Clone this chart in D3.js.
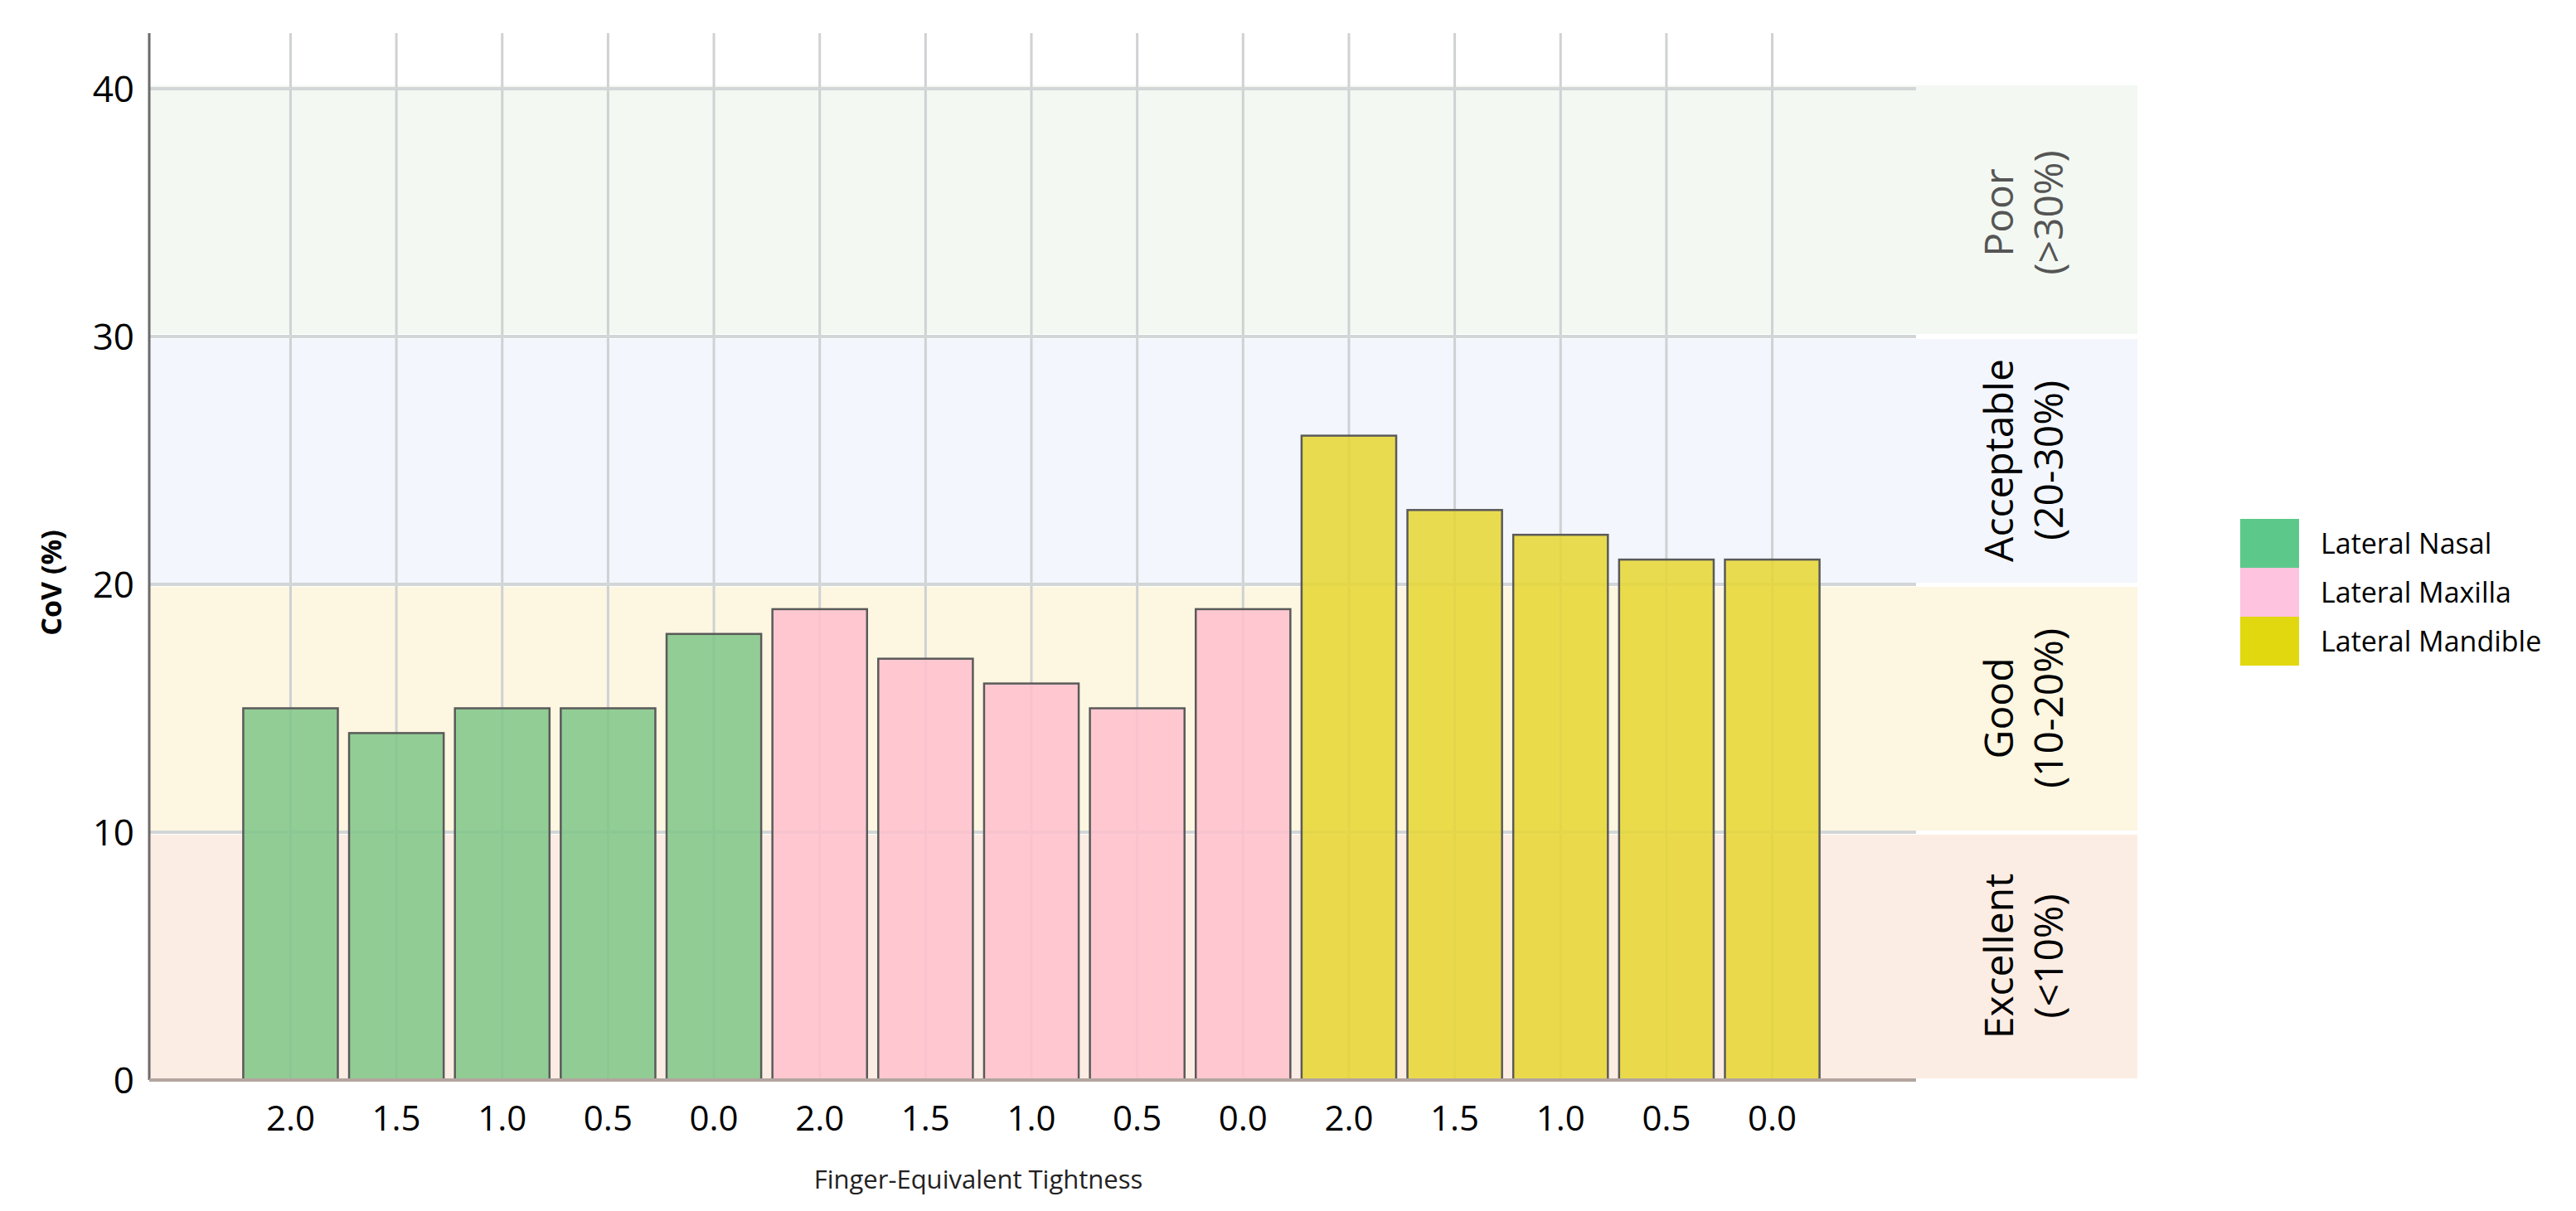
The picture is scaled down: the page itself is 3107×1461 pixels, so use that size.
<!DOCTYPE html>
<html>
<head>
<meta charset="utf-8">
<script src="https://cdn.jsdelivr.net/npm/d3@7"></script>
<style>
  body { margin: 0; background: #fff; }
  text { font-family: "Open Sans", "DejaVu Sans", sans-serif; }
</style>
</head>
<body>
<div id="chart"></div>
<script>
// data
const tightness = ['2.0', '1.5', '1.0', '0.5', '0.0'];
const groups = ['Lateral Nasal', 'Lateral Maxilla', 'Lateral Mandible'];
const nasalCoV = [15, 14, 15, 15, 18];
const maxillaCoV = [19, 17, 16, 15, 19];
const mandibleCoV = [26, 23, 22, 21, 21];
const yTicks = [0, 10, 20, 30, 40];
const bandNames = ['Excellent', 'Good', 'Acceptable', 'Poor'];
const bandRanges = ['(<10%)', '(10-20%)', '(20-30%)', '(>30%)'];
const bandLimits = [[0, 10], [10, 20], [20, 30], [30, 40]];

const barColors = ['#7fc587', '#ffc0cc', '#e6d630'];
const legendColors = ['#5cc98a', '#fdc3df', '#e2d80f'];
const bandColors = ['#fcede4', '#fdf6e1', '#f3f6fc', '#f3f8f2'];

const width = 3107, height = 1461;
const plot = { left: 180, right: 2311, top: 40, bottom: 1303 };
const bandRight = 2578;

// flatten into one row per bar
const rows = [];
[nasalCoV, maxillaCoV, mandibleCoV].forEach((vals, g) => {
    vals.forEach((v, i) => rows.push({ key: g + '-' + i, group: g, label: tightness[i], value: v }));
});

const svg = d3.select('#chart')
    .append('svg')
    .attr('width', width)
    .attr('height', height);

const x = d3.scaleBand()
    .domain(rows.map(d => d.key))
    .range([287, 2201])
    .paddingInner(0.106)
    .paddingOuter(0.05);

const y = d3.scaleLinear()
    .domain([0, 40])
    .range([plot.bottom, 107]);

// quality bands
svg.append('g')
    .selectAll('rect')
    .data(bandLimits)
    .join('rect')
    .attr('x', plot.left)
    .attr('y', (d, i) => y(d[1]) + (i == 3 ? -4 : 3))
    .attr('width', bandRight - plot.left)
    .attr('height', (d, i) => y(d[0]) - y(d[1]) - (i == 3 ? -1 : 5))
    .style('fill', (d, i) => bandColors[i]);

// grid lines
svg.append('g')
    .selectAll('line')
    .data(rows)
    .join('line')
    .attr('x1', d => x(d.key) + x.bandwidth() / 2)
    .attr('x2', d => x(d.key) + x.bandwidth() / 2)
    .attr('y1', plot.top)
    .attr('y2', plot.bottom)
    .style('stroke', '#cfd1d3')
    .style('stroke-width', 3);

svg.append('g')
    .selectAll('line')
    .data(yTicks.slice(1))
    .join('line')
    .attr('x1', plot.left)
    .attr('x2', plot.right)
    .attr('y1', d => y(d))
    .attr('y2', d => y(d))
    .style('stroke', '#d3d6d6')
    .style('stroke-width', 4);

// bars
svg.append('g')
    .selectAll('rect')
    .data(rows)
    .join('rect')
    .attr('x', d => x(d.key))
    .attr('y', d => y(d.value))
    .attr('width', x.bandwidth())
    .attr('height', d => y(0) - y(d.value))
    .style('fill', d => barColors[d.group])
    .style('fill-opacity', 0.85)
    .style('stroke', '#5a5a5a')
    .style('stroke-width', 2.5);

// axes
svg.append('line')
    .attr('x1', plot.left).attr('x2', plot.left)
    .attr('y1', plot.top).attr('y2', plot.bottom)
    .style('stroke', '#6b6b6b').style('stroke-width', 3);
svg.append('line')
    .attr('x1', plot.left).attr('x2', plot.right)
    .attr('y1', plot.bottom).attr('y2', plot.bottom)
    .style('stroke', '#b3a59f').style('stroke-width', 4);

svg.append('g')
    .selectAll('text')
    .data(yTicks)
    .join('text')
    .attr('x', 162)
    .attr('y', d => y(d) + 16)
    .attr('text-anchor', 'end')
    .style('font-size', '44px')
    .text(d => d);

svg.append('g')
    .selectAll('text')
    .data(rows)
    .join('text')
    .attr('x', d => x(d.key) + x.bandwidth() / 2)
    .attr('y', 1364)
    .attr('text-anchor', 'middle')
    .style('font-size', '42px')
    .text(d => d.label);

svg.append('text')
    .attr('transform', 'translate(74,703) rotate(-90)')
    .attr('text-anchor', 'middle')
    .style('font-size', '34px')
    .style('font-weight', 'bold')
    .text('CoV (%)');

svg.append('text')
    .attr('x', 1180)
    .attr('y', 1434)
    .attr('text-anchor', 'middle')
    .style('font-size', '31px')
    .style('fill', '#222')
    .text('Finger-Equivalent Tightness');

// band labels
const bandText = svg.append('g')
    .selectAll('text')
    .data(bandLimits)
    .join('text')
    .attr('transform', d => `translate(2428,${y((d[0] + d[1]) / 2)}) rotate(-90)`)
    .attr('text-anchor', 'middle')
    .style('font-size', '48px')
    .style('fill', (d, i) => i == 3 ? '#555' : '#000');
bandText.append('tspan')
    .attr('x', 0).attr('dy', 0)
    .text((d, i) => bandNames[i]);
bandText.append('tspan')
    .attr('x', 0).attr('dy', 60)
    .text((d, i) => bandRanges[i]);

// legend
const legend = svg.append('g')
    .selectAll('g')
    .data(groups)
    .join('g')
    .attr('transform', (d, i) => `translate(2702,${626 + i * 59})`);
legend.append('rect')
    .attr('width', 71)
    .attr('height', 59)
    .style('fill', (d, i) => legendColors[i]);
legend.append('text')
    .attr('x', 97)
    .attr('y', 42)
    .style('font-size', '34px')
    .text(d => d);
</script>
</body>
</html>
